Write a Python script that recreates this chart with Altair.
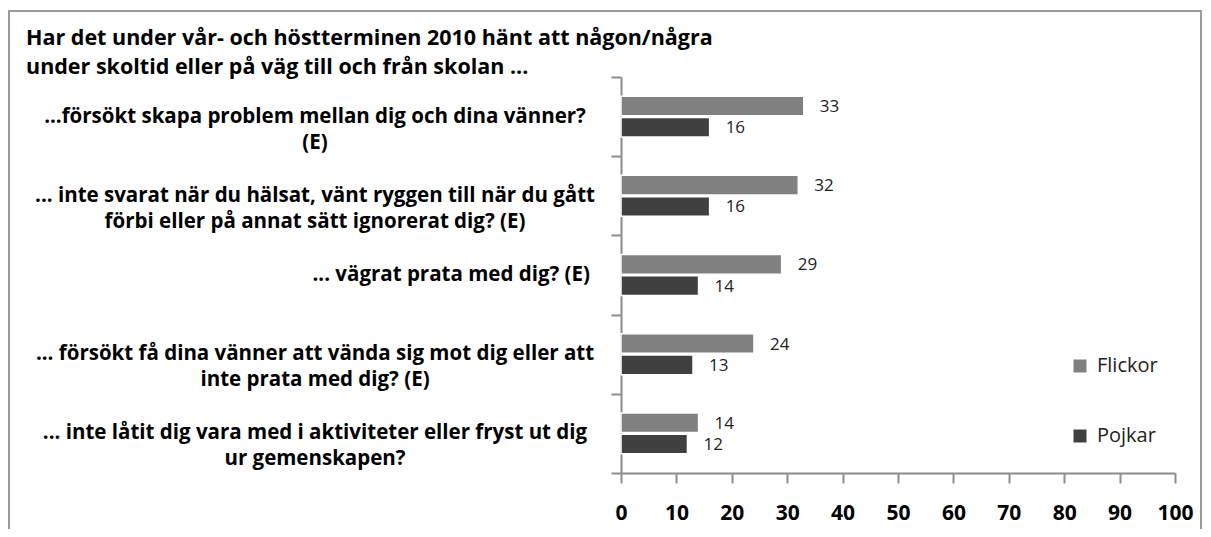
import altair as alt
import pandas as pd

categories = [
    "...försökt skapa problem mellan dig och dina vänner?\n(E)",
    "... inte svarat när du hälsat, vänt ryggen till när du gått\nförbi eller på annat sätt ignorerat dig? (E)",
    "... vägrat prata med dig? (E)",
    "... försökt få dina vänner att vända sig mot dig eller att\ninte prata med dig? (E)",
    "... inte låtit dig vara med i aktiviteter eller fryst ut dig\nur gemenskapen?",
]
series = ["Flickor", "Pojkar"]
flickor = [33, 32, 29, 24, 14]
pojkar = [16, 16, 14, 13, 12]
x_ticks = [0, 10, 20, 30, 40, 50, 60, 70, 80, 90, 100]
title_line1 = "Har det under vår- och höstterminen 2010 hänt att någon/några"
title_line2 = " under skoltid eller på väg till och från skolan ..."

rows = []
for i, c in enumerate(categories):
    rows.append({"cat": c, "serie": "Flickor", "value": flickor[i]})
    rows.append({"cat": c, "serie": "Pojkar", "value": pojkar[i]})
df = pd.DataFrame(rows)
cat_df = pd.DataFrame({"cat": categories})

FONT = "Open Sans"
GRAY = "#8c8c8c"

y_enc = alt.Y(
    "cat:N",
    sort=categories,
    scale=alt.Scale(paddingInner=0, paddingOuter=0),
    axis=alt.Axis(labels=False, title=None, grid=False, domainColor=GRAY,
                  tickColor=GRAY, tickSize=10, tickBand="extent",
                  domainWidth=2, tickWidth=2),
)
x_enc = alt.X(
    "value:Q",
    scale=alt.Scale(domain=[0, 100]),
    axis=alt.Axis(values=x_ticks, title=None, grid=False, labelFlush=False,
                  labelFontWeight="bold", labelFontSize=21, labelColor="black",
                  labelFont=FONT, domainColor=GRAY, tickColor=GRAY,
                  domainWidth=2, tickWidth=2, tickSize=10, labelPadding=19),
)
yoff_scale = alt.Scale(paddingInner=0.08, paddingOuter=0.9)

bars = alt.Chart(df).mark_bar(stroke="white", strokeWidth=1.5).encode(
    x=x_enc,
    y=y_enc,
    yOffset=alt.YOffset("serie:N", sort=series, scale=yoff_scale),
    color=alt.Color(
        "serie:N",
        scale=alt.Scale(domain=series, range=["#808080", "#404040"]),
        legend=alt.Legend(orient="none", legendX=449, legendY=279, title=None,
                          symbolType="square", symbolSize=169,
                          symbolStrokeWidth=0, labelFontSize=20,
                          labelFont=FONT, labelColor="#222", padding=0,
                          rowPadding=50, labelOffset=7),
    ),
)

values = alt.Chart(df).mark_text(align="left", baseline="middle", dx=16, dy=1,
                                 fontSize=17, font=FONT, color="#222").encode(
    x="value:Q",
    y=alt.Y("cat:N", sort=categories),
    yOffset=alt.YOffset("serie:N", sort=series),
    text="value:Q",
)

multi = [c for c in categories if "\n" in c]
single = [c for c in categories if "\n" not in c]
labels_multi = alt.Chart(cat_df).transform_filter(
    alt.FieldOneOfPredicate(field="cat", oneOf=multi)
).mark_text(align="center", baseline="middle", lineBreak="\n", lineHeight=26,
            fontSize=20.5, fontWeight="bold", font=FONT, color="black").encode(
    x=alt.value(-306),
    y=alt.Y("cat:N", sort=categories),
    text="cat:N",
)
labels_single = alt.Chart(cat_df).transform_filter(
    alt.FieldOneOfPredicate(field="cat", oneOf=single)
).mark_text(align="right", baseline="middle", fontSize=20.5, fontWeight="bold",
            font=FONT, color="black").encode(
    x=alt.value(-31),
    y=alt.Y("cat:N", sort=categories),
    text="cat:N",
)

title1 = alt.Chart(pd.DataFrame({"t": [title_line1]})).mark_text(
    align="left", baseline="alphabetic", fontSize=21.5, fontWeight="bold",
    font=FONT, color="black",
).encode(x=alt.value(-595), y=alt.value(-32), text="t:N")
title2 = alt.Chart(pd.DataFrame({"t": [title_line2]})).mark_text(
    align="left", baseline="alphabetic", fontSize=21.5, fontWeight="bold",
    font=FONT, color="black",
).encode(x=alt.value(-595), y=alt.value(-3), text="t:N")

frame = alt.Chart(pd.DataFrame({"a": [0]})).mark_rect(
    fillOpacity=0, stroke="#9a9a9a", strokeWidth=2
).encode(x=alt.value(-612), x2=alt.value(580), y=alt.value(-66), y2=alt.value(480))

chart = alt.layer(frame, bars, values, labels_multi, labels_single, title1, title2).properties(
    width=554, height=396,
    autosize=alt.AutoSizeParams(type="none"),
    padding={"left": 613, "top": 69, "right": 28, "bottom": 56},
).configure_view(stroke=None)

chart.save("out.html", embed_options={"renderer": "svg", "actions": False})
